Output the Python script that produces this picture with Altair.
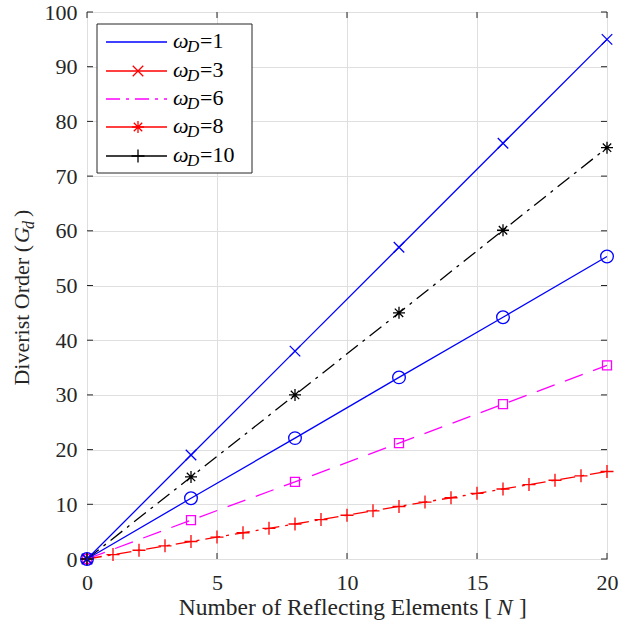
import altair as alt
import pandas as pd

# ---------------- data ----------------
N_coarse = [0, 4, 8, 12, 16, 20]
G_cross = [0, 19.0, 38.0, 57.0, 76.0, 95.0]
G_star = [0, 15.0, 30.0, 45.0, 60.1, 75.2]
G_circle = [0, 11.1, 22.1, 33.2, 44.2, 55.3]
G_square = [0, 7.1, 14.1, 21.2, 28.3, 35.4]
N_fine = list(range(0, 21))
G_plus = [0, 0.8, 1.6, 2.4, 3.2, 4.0, 4.8, 5.6, 6.4, 7.2, 8.0,
          8.8, 9.6, 10.4, 11.2, 12.0, 12.8, 13.6, 14.4, 15.2, 16.0]

x_ticks = [0, 5, 10, 15, 20]
y_ticks = [0, 10, 20, 30, 40, 50, 60, 70, 80, 90, 100]

legend_values = ["1", "3", "6", "8", "10"]

# ---------------- styles ----------------
FONT = "Liberation Serif"
AX = "#262626"
W, H = 520, 547
X_PATH = "M-1,-1L1,1M-1,1L1,-1"
PLUS_PATH = "M-1,0L1,0M0,-1L0,1"
STAR_PATH = "M-1,0L1,0M0,-1L0,1M-0.7,-0.7L0.7,0.7M-0.7,0.7L0.7,-0.7"
DASHDOT = [15, 6, 3, 6]

xs = alt.Scale(domain=[0, 20], nice=False, zero=False)
ys = alt.Scale(domain=[0, 100], nice=False, zero=False)
xaxis = alt.Axis(values=x_ticks, title=None, grid=True, gridColor="#dfdfdf",
                 ticks=False, tickSize=0, domain=False, labelFont=FONT,
                 labelFontSize=22, labelColor=AX, labelPadding=13,
                 labelFlush=False, labelOverlap=False)
yaxis = alt.Axis(values=y_ticks, title=None, grid=True, gridColor="#dfdfdf",
                 ticks=False, tickSize=0, domain=False, labelFont=FONT,
                 labelFontSize=22, labelColor=AX, labelPadding=10,
                 labelFlush=False, labelOverlap=False)

series = [
    (N_coarse, G_square, "#ff00ff", [19, 11], "square", 81),
    (N_fine, G_plus, "#ff0000", DASHDOT, PLUS_PATH, 169),
    (N_coarse, G_circle, "#0000ff", None, "circle", 160),
    (N_coarse, G_star, "#000000", DASHDOT, STAR_PATH, 144),
    (N_coarse, G_cross, "#0000ff", None, X_PATH, 110),
]

layers = []
for n, g, col, dash, shape, size in series:
    df = pd.DataFrame({"N": n, "G": g})
    base = alt.Chart(df).encode(
        x=alt.X("N:Q", scale=xs, axis=xaxis),
        y=alt.Y("G:Q", scale=ys, axis=yaxis),
    )
    lkw = dict(color=col, strokeWidth=1.3)
    if dash:
        lkw["strokeDash"] = dash
    layers.append(base.mark_line(**lkw))
    layers.append(base.mark_point(shape=shape, size=size, filled=False,
                                  color=col, strokeWidth=1.3, opacity=1))

# inward ticks on all four sides
ytd = pd.DataFrame({"v": y_ticks})
xtd = pd.DataFrame({"v": x_ticks})
for xv in [3, W - 3]:
    layers.append(alt.Chart(ytd).mark_tick(size=6, thickness=1, color=AX, opacity=1).encode(
        y=alt.Y("v:Q", scale=ys, axis=yaxis), x=alt.value(xv)))
for yv in [3, H - 3]:
    layers.append(alt.Chart(xtd).mark_tick(size=6, thickness=1, color=AX, opacity=1).encode(
        x=alt.X("v:Q", scale=xs, axis=xaxis), y=alt.value(yv)))

one = pd.DataFrame({"a": [0]})

# legend
layers.append(alt.Chart(one).mark_rect(fill="white", stroke=AX, strokeWidth=1).encode(
    x=alt.value(10), x2=alt.value(165), y=alt.value(12), y2=alt.value(161)))
leg_style = [
    ("#0000ff", None, None, 0),
    ("#ff0000", None, X_PATH, 110),
    ("#ff00ff", [14, 6, 3, 6], None, 0),
    ("#ff0000", None, STAR_PATH, 144),
    ("#000000", None, PLUS_PATH, 169),
]
row_y = [30, 59, 87, 115, 144]
for val, (col, dash, shape, size), ry in zip(legend_values, leg_style, row_y):
    rkw = dict(color=col, strokeWidth=1.3)
    if dash:
        rkw["strokeDash"] = dash
    layers.append(alt.Chart(one).mark_rule(**rkw).encode(
        x=alt.value(19), x2=alt.value(80), y=alt.value(ry)))
    if shape:
        layers.append(alt.Chart(one).mark_point(shape=shape, size=size, filled=False,
                                                color=col, strokeWidth=1.3, opacity=1).encode(
            x=alt.value(51), y=alt.value(ry)))
    layers.append(alt.Chart(one).mark_text(text="ω", font=FONT, fontSize=22, fontStyle="italic",
                                           align="left", baseline="alphabetic", color="black").encode(
        x=alt.value(86), y=alt.value(ry + 6)))
    layers.append(alt.Chart(one).mark_text(text="D", font=FONT, fontSize=17, fontStyle="italic",
                                           align="left", baseline="alphabetic", color="black").encode(
        x=alt.value(100), y=alt.value(ry + 10)))
    layers.append(alt.Chart(one).mark_text(text="=" + val, font=FONT, fontSize=22,
                                           align="left", baseline="alphabetic", color="black").encode(
        x=alt.value(113), y=alt.value(ry + 6)))

# axis titles (manual, to get italic symbols)
def txt(s, x, y, size=22, style="normal", align="left", angle=0):
    kw = dict(text=s, font=FONT, fontSize=size, align=align, baseline="alphabetic",
              color=AX)
    if style != "normal":
        kw["fontStyle"] = style
    if angle:
        kw["angle"] = angle
    return alt.Chart(one).mark_text(**kw).encode(x=alt.value(x), y=alt.value(y))

layers.append(txt("Number of Reflecting Elements [", 405, 603, size=23.5, align="right"))
layers.append(txt("N", 410, 603, size=23.5, style="italic"))
layers.append(txt("]", 432, 603, size=23.5))

layers.append(txt("Diverist Order (", -58, 233, align="right", angle=270))
layers.append(txt("G", -58, 231, style="italic", angle=270))
layers.append(txt("d", -53, 217, size=16, style="italic", angle=270))
layers.append(txt(")", -58, 205, angle=270))

chart = alt.layer(*layers).properties(
    width=W, height=H,
    autosize=alt.AutoSizeParams(type="none"),
    padding={"left": 87, "top": 12, "right": 28, "bottom": 65},
    background="white",
).configure(font=FONT).configure_view(stroke=AX, strokeWidth=1)

chart.save("out.html", embed_options={"renderer": "svg", "actions": False})
